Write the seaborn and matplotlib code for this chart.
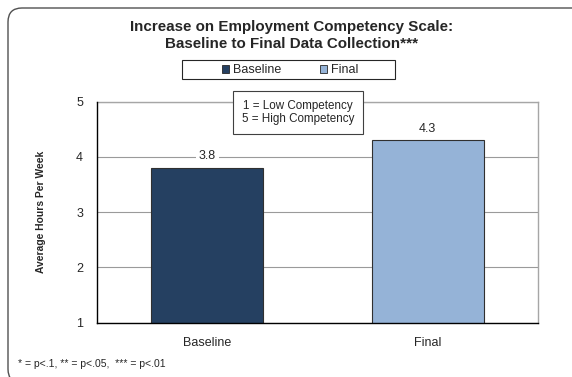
import matplotlib
matplotlib.use("Agg")
import matplotlib.pyplot as plt
import seaborn as sns
import pandas as pd
from matplotlib.patches import FancyBboxPatch, Patch, Rectangle

# Data
categories = ["Baseline", "Final"]
scores = [3.8, 4.3]
bar_colors = ["#254061", "#95B3D7"]
y_ticks = [1, 2, 3, 4, 5]

sns.set_theme(style="white")
plt.rcParams["font.family"] = ["Liberation Sans", "DejaVu Sans"]

df = pd.DataFrame({"group": categories, "score": scores})

W, H = 572, 377
fig = plt.figure(figsize=(W / 100, H / 100), dpi=100)
ax = fig.add_axes([97 / W, 1 - 322.7 / H, 441 / W, 221 / H])

sns.barplot(data=df, x="group", y="score", hue="group", palette=bar_colors,
            saturation=1, width=0.51, edgecolor="#303030", linewidth=0.8,
            legend=False, ax=ax, zorder=3)

ax.set_ylim(1, 5)
ax.set_yticks(y_ticks)
ax.set_yticklabels([str(t) for t in y_ticks], fontsize=9)
ax.set_xticks([0, 1])
ax.set_xticklabels(categories, fontsize=9)
ax.set_xlim(-0.5, 1.5)
ax.set_xlabel("")
ax.set_ylabel("Average Hours Per Week", fontsize=7.4, fontweight="bold", labelpad=22)

# ticks at category boundaries on the x-axis
ax.set_xticks([-0.5, 0.5, 1.5], minor=True)
ax.tick_params(axis="x", which="major", length=0, pad=10)
ax.tick_params(axis="x", which="minor", length=4, width=0.8, color="black", direction="in")
ax.tick_params(axis="y", length=4, width=0.8, color="black", direction="out", pad=6)

ax.grid(axis="y", color="#9a9a9a", linewidth=0.8, zorder=0)
ax.set_axisbelow(True)
for side in ["left", "bottom"]:
    ax.spines[side].set_color("black")
    ax.spines[side].set_linewidth(1.0)
    ax.spines[side].set_zorder(5)
for side in ["top", "right"]:
    ax.spines[side].set_color("#a6a6a6")
    ax.spines[side].set_linewidth(1.0)

# value labels
for i, v in enumerate(scores):
    ax.annotate(f"{v:.1f}", (i, v), xytext=(0, 4), textcoords="offset points",
                ha="center", va="bottom", fontsize=9,
                bbox=dict(facecolor="white", edgecolor="none", pad=2), zorder=6)

# scale note box
ax.text(298 / W, 1 - 112.5 / H, "1 = Low Competency\n5 = High Competency",
        transform=fig.transFigure, ha="center", va="center", fontsize=8.4,
        linespacing=1.2, zorder=7,
        bbox=dict(boxstyle="square,pad=0.75", facecolor="white",
                  edgecolor="#404040", linewidth=0.8))

# title
fig.text(292 / W, 1 - 35.5 / H,
         "Increase on Employment Competency Scale:\nBaseline to Final Data Collection***",
         ha="center", va="center", fontsize=10.9, fontweight="bold", linespacing=1.2)

# legend with a separate frame
fig.patches.append(Rectangle((182, H - 79), 213, 19, transform=None,
                             facecolor="white", edgecolor="#262626",
                             linewidth=0.8, zorder=1))
handles = [Patch(facecolor=c, edgecolor="#262626", linewidth=0.6) for c in bar_colors]
leg = fig.legend(handles, categories, loc="center", bbox_to_anchor=(290 / W, 1 - 70 / H),
                 ncol=2, fontsize=9, frameon=False, handlelength=0.6,
                 handleheight=0.6, handletextpad=0.3, columnspacing=3.1,
                 borderpad=0.1, borderaxespad=0)
leg.set_zorder(2)

# footnote
fig.text(18 / W, 1 - 364 / H, "* = p<.1, ** = p<.05,  *** = p<.01",
         ha="left", va="center", fontsize=7.5)

# rounded outer frame
frame = FancyBboxPatch((8, -6), 640, H - 8 + 6,
                       boxstyle="round,pad=0,rounding_size=14",
                       transform=None, facecolor="none", edgecolor="#505050",
                       linewidth=1.0, zorder=0)
fig.patches.append(frame)

fig.savefig("out.png", dpi=100, facecolor="white")
